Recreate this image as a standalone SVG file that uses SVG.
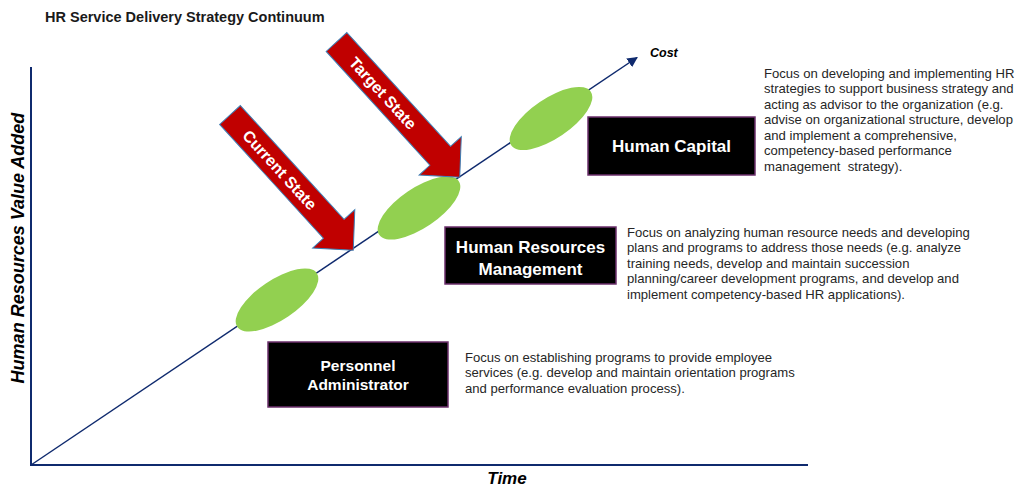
<svg xmlns="http://www.w3.org/2000/svg" width="1019" height="487" viewBox="0 0 1019 487">
<defs>
<style>
.title{font-family:"Liberation Sans",Arial,sans-serif;font-weight:bold;font-size:14.5px;fill:#1a1a1a}
.axlab{font-family:"Liberation Sans",Arial,sans-serif;font-weight:bold;font-style:italic;fill:#000}
.desc{font-family:"Liberation Sans",Arial,sans-serif;font-size:13.1px;fill:#262626}
.box{fill:#000;stroke:#6B2F6B;stroke-width:1.5}
.boxt{font-family:"Liberation Sans",Arial,sans-serif;font-weight:bold;fill:#fff;text-anchor:middle}
.oval{fill:#92D050}
.red{fill:#C00000;stroke:#3E7FB5;stroke-width:1}
.redt{font-family:"Liberation Sans",Arial,sans-serif;font-weight:bold;font-size:16px;fill:#fff;text-anchor:middle}
.axis{stroke:#0F2A6E;stroke-width:2;fill:none}
.diag{stroke:#0F2A6E;stroke-width:1.5;fill:none}
</style>
<marker id="ah" viewBox="0 0 10 10" refX="9" refY="5" markerWidth="7" markerHeight="7" orient="auto" markerUnits="strokeWidth">
<path d="M0,0 L10,5 L0,10 z" fill="#0F2A6E"/>
</marker>
<polygon id="redarrow" points="0,-14 154,-14 154,-28.5 183,0 154,28.5 154,14 0,14"/>
</defs>
<rect width="1019" height="487" fill="#fff"/>
<text class="title" x="45" y="22">HR Service Delivery Strategy Continuum</text>

<g id="connectors">
<path class="axis" d="M31,67 L31,465 L808,465"/>
<line class="diag" x1="31" y1="465" x2="637" y2="57.5" marker-end="url(#ah)"/>
</g>

<text class="axlab" x="650" y="57" font-size="12.5">Cost</text>
<text class="axlab" x="507" y="484" font-size="17" text-anchor="middle">Time</text>
<text class="axlab" font-size="18" text-anchor="middle" transform="translate(24,248) rotate(-90)">Human Resources Value Added</text>

<g id="oval-personnel"><ellipse class="oval" cx="277" cy="300" rx="48" ry="20" transform="rotate(-34 277 300)"/></g>
<g id="oval-hrm"><ellipse class="oval" cx="419" cy="208" rx="48" ry="20" transform="rotate(-34 419 208)"/></g>
<g id="oval-hc"><ellipse class="oval" cx="551" cy="118.5" rx="48" ry="20" transform="rotate(-34 551 118.5)"/></g>

<g id="current-state" transform="translate(230,115) rotate(47.66)">
<use href="#redarrow" class="red"/>
<text class="redt" x="74" y="5.8">Current State</text>
</g>
<g id="target-state" transform="translate(336.5,42) rotate(47.66)">
<use href="#redarrow" class="red"/>
<text class="redt" x="69" y="5.8">Target State</text>
</g>

<g id="human-capital">
<rect class="box" x="588" y="117" width="167" height="58"/>
<text class="boxt" x="671.5" y="152" font-size="17">Human Capital</text>
</g>
<g id="human-capital-desc">
<text class="desc" x="764" y="77.5">Focus on developing and implementing HR</text>
<text class="desc" x="764" y="93">strategies to support business strategy and</text>
<text class="desc" x="764" y="108.5">acting as advisor to the organization (e.g.</text>
<text class="desc" x="764" y="124">advise on organizational structure, develop</text>
<text class="desc" x="764" y="139.5">and implement a comprehensive,</text>
<text class="desc" x="764" y="155">competency-based performance</text>
<text class="desc" x="764" y="170.5" xml:space="preserve">management  strategy).</text>
</g>

<g id="hrm">
<rect class="box" x="445" y="227" width="171" height="57"/>
<text class="boxt" x="530.5" y="253" font-size="17">Human Resources</text>
<text class="boxt" x="530.5" y="275" font-size="17">Management</text>
</g>
<g id="hrm-desc">
<text class="desc" x="627" y="236.5">Focus on analyzing human resource needs and developing</text>
<text class="desc" x="627" y="252">plans and programs to address those needs (e.g. analyze</text>
<text class="desc" x="627" y="267.5">training needs, develop and maintain succession</text>
<text class="desc" x="627" y="283">planning/career development programs, and develop and</text>
<text class="desc" x="627" y="298.5">implement competency-based HR applications).</text>
</g>

<g id="personnel-administrator">
<rect class="box" x="268" y="342" width="180" height="65"/>
<text class="boxt" x="358" y="370.5" font-size="15.5">Personnel</text>
<text class="boxt" x="358" y="389.5" font-size="15.5">Administrator</text>
</g>
<g id="personnel-desc">
<text class="desc" x="465" y="361.5">Focus on establishing programs to provide employee</text>
<text class="desc" x="465" y="377">services (e.g. develop and maintain orientation programs</text>
<text class="desc" x="465" y="392.5">and performance evaluation process).</text>
</g>
</svg>
